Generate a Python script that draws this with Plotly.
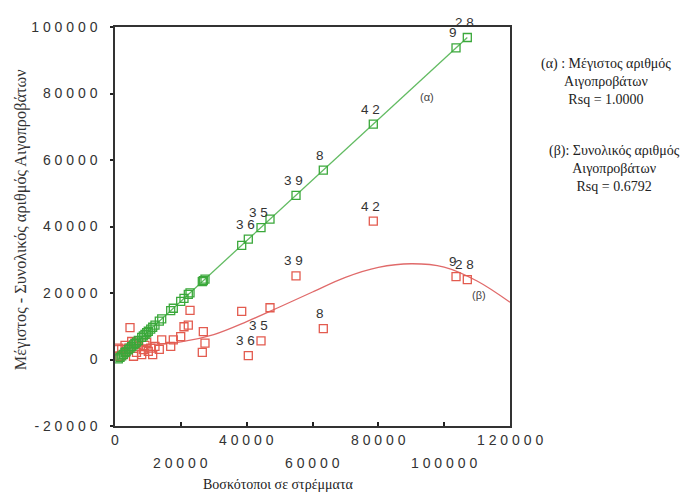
import numpy as np
import plotly.graph_objects as go

# ---- data ----
area = [107030, 103600, 78470, 63280, 54990, 47090, 44360, 40500, 38490,
        27340, 26830, 26520, 22790, 22270, 20960, 19960, 17710, 16920,
        14190, 13460, 12150, 11450, 10850, 10120, 9630, 9110, 8600, 8110,
        7080, 6530, 6080, 5620, 5070, 4560, 4040, 3340, 3040, 2520, 2040,
        1520, 1000]
max_goats = [96840, 93700, 70800, 56950, 49380, 42190, 39680, 36180, 34350,
             24170, 23700, 23430, 20030, 19560, 18370, 17460, 15410, 14680,
             12190, 11540, 10330, 9700, 9140, 8490, 8050, 7570, 7100, 6660,
             5710, 5210, 4790, 4380, 3880, 3400, 2930, 2310, 2040, 1570, 1120,
             650, 180]
total_goats = [24050, 24940, 41600, 9260, 25150, 15560, 5620, 1180, 14500,
               4910, 8370, 2160, 14790, 10360, 9850, 6890, 5920, 3940,
               5920, 3050, 3940, 1480, 3430, 2460, 5120, 4230, 2960, 1480,
               3940, 2160, 4910, 980, 5410, 9560, 3430, 2460, 4230, 1480, 3050,
               980, 3430]
case_labels = ["28", "9", "42", "8", "39", "", "35", "36", "", "", "", "", "",
               "", "", "", "", "", "", "", "", "", "", "", "", "", "", "", "",
               "", "", "", "", "", "", "", "", "", "", "", ""]

beta_fit_x = [0, 10000, 20000, 30000, 40000, 50000, 60000, 70000, 80000,
              90000, 100000, 110000, 120000]
beta_fit_y = [4200, 4500, 5300, 7500, 11400, 15800, 20300, 24700, 27700,
              28800, 27800, 23600, 17200]

x_ticks = [0, 20000, 40000, 60000, 80000, 100000, 120000]
x_tick_labels = ["0", "2 0 0 0 0", "4 0 0 0 0", "6 0 0 0 0", "8 0 0 0 0",
                 "1 0 0 0 0 0", "1 2 0 0 0 0"]
y_ticks = [-20000, 0, 20000, 40000, 60000, 80000, 100000]
y_tick_labels = ["- 2 0 0 0 0", "0", "2 0 0 0 0", "4 0 0 0 0", "6 0 0 0 0",
                 "8 0 0 0 0", "1 0 0 0 0 0"]

x_title = "Βοσκότοποι σε στρέμματα"
y_title = "Μέγιστος - Συνολικός αριθμός Αιγοπροβάτων"
note_a = "(α) : Μέγιστος αριθμός<br>Αιγοπροβάτων<br>Rsq = 1.0000"
note_b = "(β): Συνολικός αριθμός<br>Αιγοπροβάτων<br>Rsq = 0.6792"

GREEN = "#3aa83a"
GREEN_LINE = "#62bb62"
RED = "#e35b4f"
RED_LINE = "#e06a6a"
SANS = "Arial, Liberation Sans, sans-serif"
SERIF = "Liberation Serif, Times New Roman, serif"
TXT = "#333333"

# plot area in screen pixels (page has 8px body offset)
PL, PR, PT, PB = 115, 510, 19, 426
PW, PH = PR - PL, PB - PT


def px(xp):
    return (xp - PL) / PW


def py(yp):
    return (PB - yp) / PH


# linear fit for series (α)
slope, icpt = np.polyfit(area, max_goats, 1)
fit_x = np.array([min(area), max(area)])
fit_y = icpt + slope * fit_x

fig = go.Figure()
fig.add_trace(go.Scatter(x=fit_x, y=fit_y, mode="lines",
                         line=dict(color=GREEN_LINE, width=1.3),
                         hoverinfo="skip"))
fig.add_trace(go.Scatter(x=beta_fit_x, y=beta_fit_y, mode="lines",
                         line=dict(color=RED_LINE, width=1.3, shape="spline"),
                         hoverinfo="skip"))
fig.add_trace(go.Scatter(x=area, y=total_goats, mode="markers",
                         marker=dict(symbol="square-open", size=8, color=RED,
                                     line=dict(width=1.3, color=RED)),
                         cliponaxis=False))
fig.add_trace(go.Scatter(x=area, y=max_goats, mode="markers",
                         marker=dict(symbol="square-open", size=8, color=GREEN,
                                     line=dict(width=1.3, color=GREEN)),
                         cliponaxis=False))

ann = []
for xv, gy, ry, lab in zip(area, max_goats, total_goats, case_labels):
    if not lab:
        continue
    t = " ".join(lab)
    for yv in (gy, ry):
        ann.append(dict(x=xv, y=yv, xref="x", yref="y", text=t,
                        showarrow=False, xshift=-3, yshift=15,
                        font=dict(family=SANS, size=13.5, color=TXT)))

# staggered x tick labels
for i, (tv, tl) in enumerate(zip(x_ticks, x_tick_labels)):
    ann.append(dict(x=tv, y=0, xref="x", yref="paper", text=tl,
                    showarrow=False, yanchor="middle",
                    yshift=-14 if i % 2 == 0 else -37,
                    font=dict(family=SANS, size=14, color=TXT)))

ann.append(dict(x=px(278), y=py(486), xref="paper", yref="paper",
                text=x_title, showarrow=False,
                xanchor="center", yanchor="middle",
                font=dict(family=SERIF, size=14, color="#222")))
ann.append(dict(x=px(20), y=py(216), xref="paper", yref="paper",
                text=y_title, showarrow=False, textangle=-90,
                xanchor="center", yanchor="middle",
                font=dict(family=SERIF, size=16.3, color="#333")))
ann.append(dict(x=px(606), y=py(75), xref="paper", yref="paper",
                text=note_a, showarrow=False, align="center",
                xanchor="center", yanchor="middle",
                font=dict(family=SERIF, size=14, color="#222")))
ann.append(dict(x=px(614), y=py(163), xref="paper", yref="paper",
                text=note_b, showarrow=False, align="center",
                xanchor="center", yanchor="middle",
                font=dict(family=SERIF, size=14, color="#222")))
ann.append(dict(x=px(436), y=py(82), xref="paper", yref="paper",
                text="(α)", showarrow=False,
                font=dict(family=SANS, size=11, color="#444")))
ann.append(dict(x=px(488), y=py(301), xref="paper", yref="paper",
                text="(β)", showarrow=False,
                font=dict(family=SANS, size=11, color="#444")))

fig.update_layout(
    width=690, height=501,
    margin=dict(l=PL - 8, r=690 - PR + 8, t=PT - 8, b=501 - PB + 8),
    paper_bgcolor="white", plot_bgcolor="white",
    showlegend=False,
    annotations=ann,
    xaxis=dict(range=[0, 120000], tickvals=x_ticks, showticklabels=False,
               ticks="inside", ticklen=4, tickwidth=2, tickcolor="#222",
               showgrid=False, zeroline=False, showline=True, mirror=True,
               linecolor="#333", linewidth=1.5),
    yaxis=dict(range=[-20000, 100000], tickvals=y_ticks, ticktext=y_tick_labels,
               ticks="outside", ticklen=3, tickwidth=2, tickcolor="#222",
               ticklabelstandoff=10,
               tickfont=dict(family=SANS, size=14, color=TXT),
               showgrid=False, zeroline=False, showline=True, mirror=True,
               linecolor="#333", linewidth=1.5),
)

fig.write_html("out.html")
